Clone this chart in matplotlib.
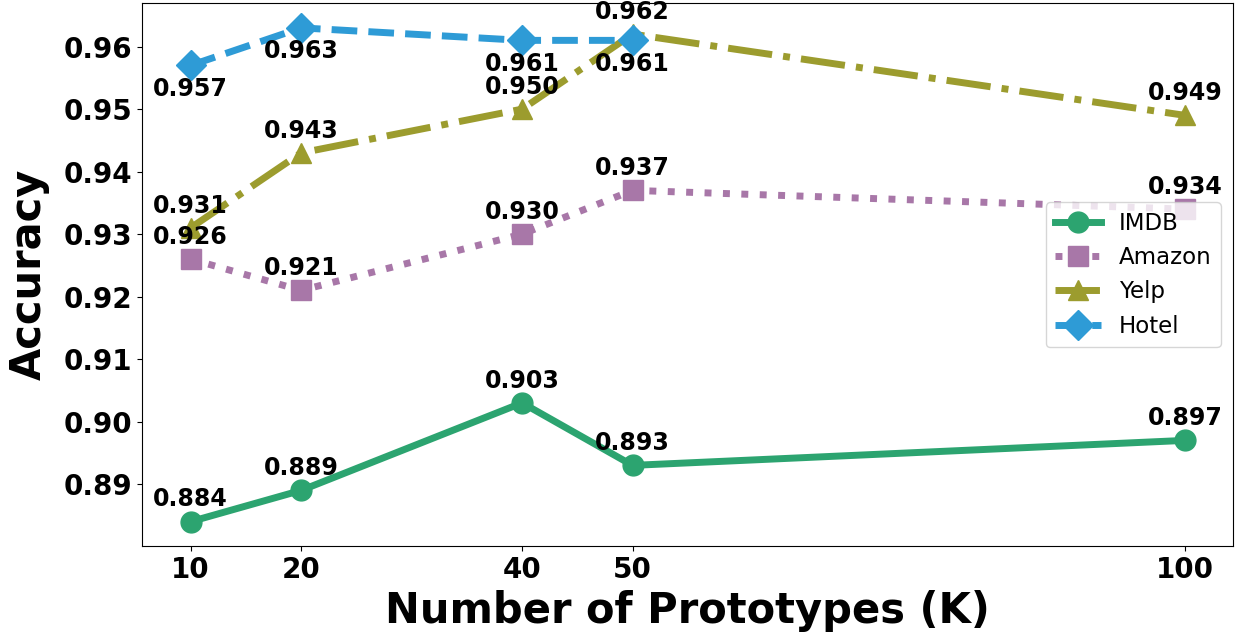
import matplotlib.pyplot as plt
from matplotlib.ticker import FormatStrFormatter, MultipleLocator

''' Graph data '''
x = [10, 20, 40, 50, 100]
imdb = [0.884, 0.889, 0.903, 0.893, 0.897]
amazon = [0.926, 0.921, 0.930, 0.937, 0.934]
yelp = [0.931, 0.943, 0.950, 0.962, 0.949]
hotel_x = [10, 20, 40, 50]
hotel = [0.957, 0.963, 0.961, 0.961]

series = [
    {'label': 'IMDB', 'x': x, 'values': imdb, 'color': '#2ca470', 'ls': '-', 'marker': 'o', 'off': 16},
    {'label': 'Amazon', 'x': x, 'values': amazon, 'color': '#a877a8', 'ls': ':', 'marker': 's', 'off': 16},
    {'label': 'Yelp', 'x': x, 'values': yelp, 'color': '#9c9c2e', 'ls': '-.', 'marker': '^', 'off': 16},
    {'label': 'Hotel', 'x': hotel_x, 'values': hotel, 'color': '#2e9bd6', 'ls': '--', 'marker': 'D', 'off': -17},
]

fig, ax = plt.subplots(figsize=(12.35, 6.36), dpi=100)
fig.subplots_adjust(left=0.115, right=0.998, top=0.995, bottom=0.141)

for s in series:
    ax.plot(s['x'], s['values'], linestyle=s['ls'], marker=s['marker'], color=s['color'],
            linewidth=5, markersize=15, label=s['label'])
    for xi, yi in zip(s['x'], s['values']):
        ax.annotate('%.3f' % yi, (xi, yi), xytext=(0, s['off']), textcoords='offset points',
                    ha='center', va='center', fontsize=17, fontweight='bold')

ax.set_xticks(x)
ax.set_xlim(5.6, 104.3)
ax.yaxis.set_major_locator(MultipleLocator(0.01))
ax.yaxis.set_major_formatter(FormatStrFormatter('%.2f'))
ax.tick_params(labelsize=20)
for lab in ax.get_xticklabels() + ax.get_yticklabels():
    lab.set_fontweight('bold')

ax.set_xlabel('Number of Prototypes (K)', fontsize=30, fontweight='bold', labelpad=4)
ax.set_ylabel('Accuracy', fontsize=30, fontweight='bold', labelpad=10)
ax.legend(loc='center right', fontsize=16.5, labelspacing=0.5)

fig.savefig('out.png')
